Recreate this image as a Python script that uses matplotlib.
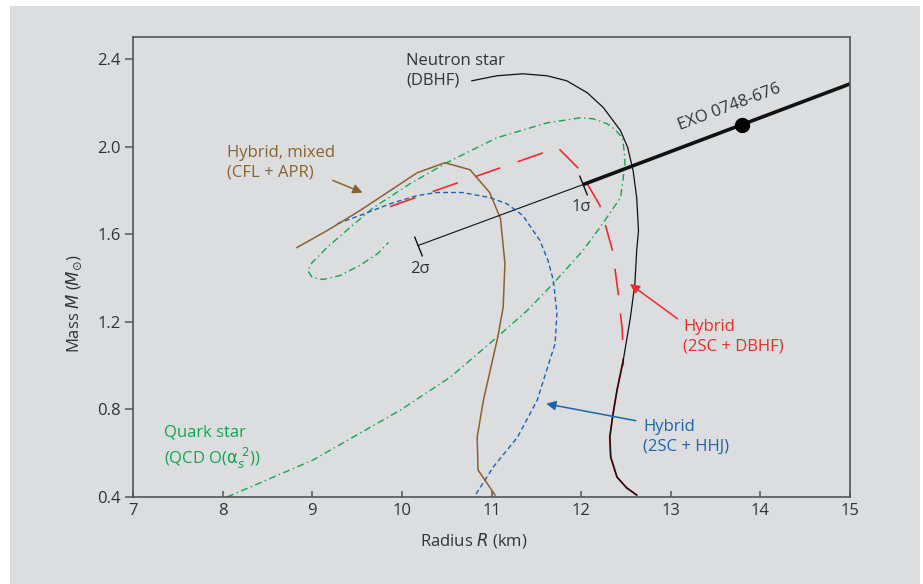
import matplotlib
matplotlib.use("Agg")
import matplotlib.pyplot as plt
from matplotlib.patches import Rectangle
from matplotlib.markers import MarkerStyle
from matplotlib.transforms import Affine2D
import numpy as np

plt.rcParams['font.family'] = ['Open Sans', 'DejaVu Sans']

# mass-radius curves (R in km, M in solar masses)
neutron_R = [10.78, 11.06, 11.35, 11.62, 11.84, 12.07, 12.25, 12.44, 12.52, 12.58,
             12.62, 12.64, 12.62, 12.60, 12.55, 12.47, 12.40, 12.35, 12.32, 12.33,
             12.40, 12.51, 12.62]
neutron_M = [2.300, 2.323, 2.332, 2.323, 2.300, 2.245, 2.177, 2.072, 1.995, 1.890,
             1.767, 1.616, 1.525, 1.375, 1.22, 1.024, 0.887, 0.764, 0.673, 0.582,
             0.491, 0.441, 0.409]

dbhf_R = [9.87, 11.74, 11.97, 12.21, 12.35, 12.41, 12.46, 12.47]
dbhf_M = [1.726, 1.995, 1.90, 1.73, 1.525, 1.343, 1.16, 1.00]

hhj_R = [9.28, 9.53, 9.87, 10.17, 10.39, 10.68, 10.98, 11.17, 11.35, 11.54,
         11.63, 11.69, 11.73, 11.71, 11.65, 11.51, 11.29, 11.02, 10.82]
hhj_M = [1.648, 1.685, 1.739, 1.776, 1.79, 1.79, 1.767, 1.739, 1.685, 1.571,
         1.48, 1.389, 1.24, 1.10, 1.024, 0.842, 0.673, 0.537, 0.409]

mixed_R = [8.83, 9.165, 9.53, 10.17, 10.48, 10.76, 10.98, 11.10, 11.15, 11.13,
           11.07, 10.91, 10.84, 10.85, 11.04]
mixed_M = [1.539, 1.616, 1.707, 1.88, 1.926, 1.894, 1.79, 1.671, 1.466, 1.266,
           1.13, 0.842, 0.673, 0.523, 0.409]

quark_R = [8.05, 9.01, 9.98, 10.54, 11.06, 11.40, 11.69, 12.02, 12.21, 12.44,
           12.49, 12.48, 12.46, 12.38, 12.29, 12.13, 11.99, 11.62, 11.06, 10.50,
           10.09, 9.68, 9.42, 9.165, 9.00, 8.95, 9.00, 9.12, 9.31, 9.53,
           9.73, 9.85]
quark_M = [0.40, 0.569, 0.796, 0.947, 1.129, 1.252, 1.375, 1.525, 1.63, 1.767,
           1.92, 1.98, 2.04, 2.077, 2.104, 2.127, 2.131, 2.108, 2.04, 1.926,
           1.83, 1.72, 1.63, 1.539, 1.471, 1.434, 1.402, 1.393, 1.411, 1.457,
           1.511, 1.562]

# EXO 0748-676 constraint line: 2 sigma, 1 sigma, edge; measured point
exo_R = [10.18, 12.02, 15.0]
exo_M = [1.548, 1.826, 2.286]
exo_pt = (13.79, 2.10)

xticks = [7, 8, 9, 10, 11, 12, 13, 14, 15]
yticks = [0.4, 0.8, 1.2, 1.6, 2.0, 2.4]

GRAY = "#dcdddf"
TXT = "#333333"
C_GREEN = "#12a650"
C_RED = "#ee2b2b"
C_BLUE = "#1b64b0"
C_BROWN = "#8a6232"
FS = 12

fig = plt.figure(figsize=(9.23, 5.84), dpi=100)
fig.patch.set_facecolor("white")
fig.patches.append(Rectangle((10/923, 0), 910/923, 578/584, transform=fig.transFigure,
                             facecolor=GRAY, edgecolor="none", zorder=-10))
ax = fig.add_axes([133/923, 1 - 497/584, 717/923, 460/584])
ax.set_facecolor(GRAY)
ax.set_xlim(7, 15)
ax.set_ylim(0.4, 2.5)

ax.plot(quark_R, quark_M, color=C_GREEN, lw=1.0, linestyle=(0, (5, 2.5, 1, 2.5)))
ax.plot(hhj_R, hhj_M, color=C_BLUE, lw=1.0, linestyle=(0, (3.5, 2.2)))
ax.plot(mixed_R, mixed_M, color=C_BROWN, lw=1.1)
ax.plot(dbhf_R, dbhf_M, color=C_RED, lw=1.2, linestyle=(0, (16, 11)))
# low-mass branch of the red curve sits under the neutron star curve
ax.plot(neutron_R[15:], neutron_M[15:], color="#a01818", lw=1.3)
ax.plot(neutron_R, neutron_M, color="#111111", lw=0.9)

# EXO line
ax.plot(exo_R[:2], exo_M[:2], color="#111111", lw=0.8)
ax.plot(exo_R[1:], exo_M[1:], color="#111111", lw=2.6, solid_capstyle="butt")
ax.plot(*exo_pt, "o", color="black", ms=10)

p0 = ax.transData.transform((exo_R[0], exo_M[0]))
p1 = ax.transData.transform((exo_R[2], exo_M[2]))
ang = np.degrees(np.arctan2(p1[1] - p0[1], p1[0] - p0[0]))
tick = MarkerStyle("|", transform=Affine2D().rotate_deg(ang))
ax.plot(exo_R[:2], exo_M[:2], linestyle="none", marker=tick, ms=15, mew=1.0, color="#111111")

ax.text(exo_R[0] + 0.02, exo_M[0] - 0.105, "2σ", fontsize=FS, color=TXT, ha="center", va="center")
ax.text(exo_R[1] - 0.02, exo_M[1] - 0.10, "1σ", fontsize=FS, color=TXT, ha="center", va="center")
ax.text(13.66, 2.18, "EXO 0748-676", fontsize=FS, color=TXT, rotation=ang,
        rotation_mode="anchor", ha="center", va="center")

# curve labels
ax.text(10.05, 2.345, "Neutron star\n(DBHF)", fontsize=FS, color=TXT,
        ha="left", va="center", linespacing=1.3)
ax.text(8.05, 1.925, "Hybrid, mixed\n(CFL + APR)", fontsize=FS, color=C_BROWN,
        ha="left", va="center", linespacing=1.3)
ax.annotate("", xy=(9.59, 1.785), xytext=(9.2, 1.85),
            arrowprops=dict(arrowstyle="-|>", color=C_BROWN, lw=1.1, mutation_scale=14))
ax.text(7.35, 0.625, "Quark star\n(QCD O($\\mathrm{\\alpha}_s^{\\ 2}$))", fontsize=FS,
        color=C_GREEN, ha="left", va="center", linespacing=1.3)
ax.text(13.14, 1.13, "Hybrid\n(2SC + DBHF)", fontsize=FS, color=C_RED,
        ha="left", va="center", linespacing=1.3)
ax.annotate("", xy=(12.52, 1.38), xytext=(13.10, 1.206),
            arrowprops=dict(arrowstyle="-|>", color=C_RED, lw=1.1, mutation_scale=14))
ax.text(12.69, 0.675, "Hybrid\n(2SC + HHJ)", fontsize=FS, color=C_BLUE,
        ha="left", va="center", linespacing=1.3)
ax.annotate("", xy=(11.58, 0.828), xytext=(12.64, 0.746),
            arrowprops=dict(arrowstyle="-|>", color=C_BLUE, lw=1.1, mutation_scale=14))

for s in ax.spines.values():
    s.set_color("#555555")
    s.set_linewidth(1.2)
ax.set_xticks(xticks)
ax.set_yticks(yticks)
ax.set_xticklabels([str(t) for t in xticks])
ax.set_yticklabels([f"{t:.1f}" for t in yticks])
ax.tick_params(axis="x", direction="in", length=4, width=1.1, color="#555555",
               labelsize=FS, labelcolor=TXT, pad=4)
ax.tick_params(axis="y", direction="out", length=6, width=1.1, color="#555555",
               labelsize=FS, labelcolor=TXT, pad=3)

ax.set_xlabel("Radius $R$ (km)", fontsize=FS, color=TXT)
ax.xaxis.set_label_coords(0.475, -0.075)
ax.set_ylabel("Mass $M$ ($M_{\\odot}$)", fontsize=FS, color=TXT)
ax.yaxis.set_label_coords(-0.068, 0.42)

fig.savefig("out.png", dpi=100)
